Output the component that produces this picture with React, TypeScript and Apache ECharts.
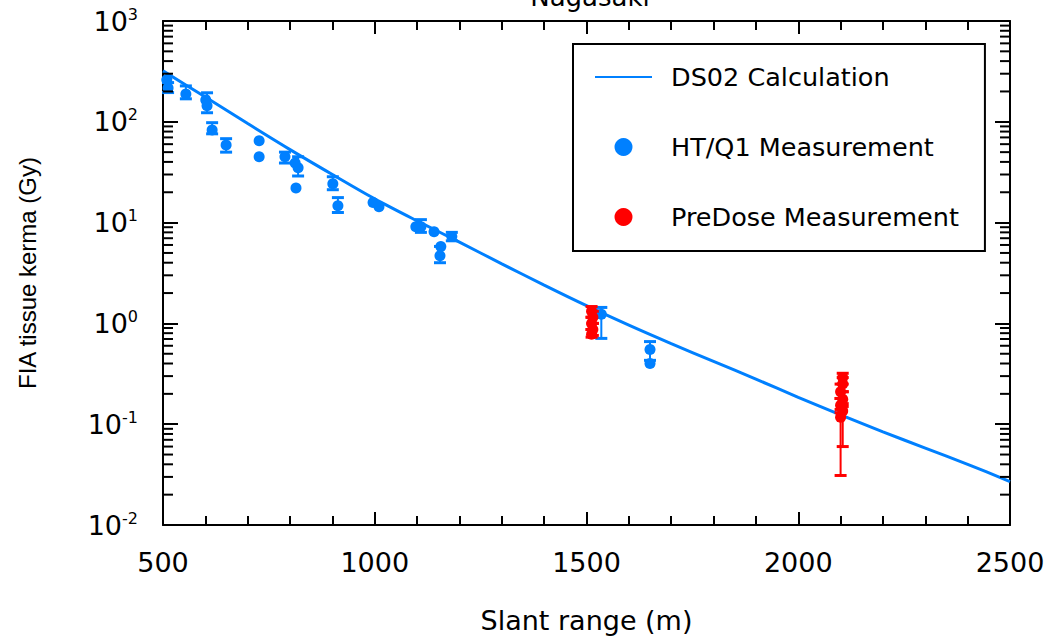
import React, { useEffect, useRef } from "react";
import * as echarts from "echarts";

// ---------- data ----------
const xMin = 500;
const xMax = 2500;
const yMin = 0.01;
const yMax = 1000;

// DS02 calculation curve (slant range m, FIA tissue kerma Gy)
const calcRange = [500, 600, 700, 800, 900, 1000, 1100, 1200, 1300, 1400, 1500, 1600, 1700, 1800, 1900, 2000, 2100, 2200, 2300, 2400, 2500];
const calcKerma = [320, 176, 96, 53, 30, 17.2, 10.4, 6.4, 3.9, 2.4, 1.5, 0.96, 0.63, 0.42, 0.28, 0.185, 0.124, 0.084, 0.058, 0.04, 0.027];

// HT/Q1 measurements (null = no error bar drawn)
const htRange = [509, 512, 554, 601, 604, 616, 649, 727, 727, 788, 812, 819, 814, 901, 913, 996, 1010, 1097, 1109, 1140, 1156, 1154, 1182, 1535, 1650, 1650];
const htKerma = [261, 217, 189, 165, 144, 83, 59, 65, 45, 45, 39, 35, 22, 24.3, 14.7, 15.8, 14.4, 9.1, 9.1, 8.1, 5.8, 4.7, 7.3, 1.23, 0.55, 0.4];
const htLow = [null, 195, 169, null, 123, 76, 50, null, null, 39, null, 29, null, 21.2, 12.6, null, null, null, 8.0, null, null, 4.0, 6.6, 0.71, 0.43, null];
const htHigh = [null, 245, 227, null, 194, 98, 68, null, null, 50, null, 45, null, 28.5, 17.7, null, null, null, 10.7, null, null, 5.8, 8.0, 1.44, 0.66, null];

// PreDose measurements
const pdRange = [1512, 1515, 1512, 1515, 1512, 2105, 2105, 2100, 2105, 2100, 2105, 2100];
const pdKerma = [1.32, 1.15, 1.0, 0.87, 0.78, 0.29, 0.25, 0.21, 0.177, 0.154, 0.135, 0.117];
const pdLow = [1.15, 1.0, 0.87, 0.76, 0.73, 0.25, 0.21, 0.18, 0.15, 0.13, 0.06, 0.031];
const pdHigh = [1.47, 1.32, 1.15, 1.0, 0.87, 0.32, 0.29, 0.25, 0.21, 0.18, 0.16, 0.14];

// log-axis minor tick positions (2..9 within each decade)
const minorMultipliers = [2, 3, 4, 5, 6, 7, 8, 9];
const decadeStarts = [0.01, 0.1, 1, 10, 100];

const BLUE = "#0080FF";
const RED = "#FF0000";
const TEXT_FONT = "DejaVu Sans";

export default function App() {
  const ref = useRef<HTMLDivElement>(null);

  useEffect(() => {
    if (!ref.current) return;
    const chart = echarts.init(ref.current, undefined, { renderer: "svg" });

    const minorY: number[][] = [];
    decadeStarts.forEach((d) => minorMultipliers.forEach((m) => minorY.push([xMin, d * m])));

    const errData = (r: number[], lo: (number | null)[], hi: (number | null)[]) =>
      r.map((x, i) => (lo[i] == null ? null : [x, lo[i], hi[i]])).filter((v) => v != null);

    const errorRender = (color: string) => (params: any, api: any) => {
      const x = api.value(0);
      const pLo = api.coord([x, api.value(1)]);
      const pHi = api.coord([x, api.value(2)]);
      const hw = 6;
      return {
        type: "group",
        children: [
          { type: "line", shape: { x1: pLo[0], y1: pLo[1], x2: pHi[0], y2: pHi[1] }, style: { stroke: color, lineWidth: 2 } },
          { type: "line", shape: { x1: pLo[0] - hw, y1: pLo[1], x2: pLo[0] + hw, y2: pLo[1] }, style: { stroke: color, lineWidth: 3 } },
          { type: "line", shape: { x1: pHi[0] - hw, y1: pHi[1], x2: pHi[0] + hw, y2: pHi[1] }, style: { stroke: color, lineWidth: 3 } },
        ],
      };
    };

    const xAxisCommon = {
      type: "value",
      min: xMin,
      max: xMax,
      interval: 500,
      axisLine: { show: true, onZero: false, lineStyle: { color: "#000", width: 2 } },
      axisTick: { show: true, inside: true, length: 13, lineStyle: { color: "#000", width: 2 } },
      minorTick: { show: true, splitNumber: 5, length: 9, lineStyle: { color: "#000", width: 2 } },
      splitLine: { show: false },
      minorSplitLine: { show: false },
    };
    const yAxisCommon = {
      type: "log",
      logBase: 10,
      min: yMin,
      max: yMax,
      splitNumber: 5,
      axisLine: { show: true, onZero: false, lineStyle: { color: "#000", width: 2 } },
      axisTick: { show: true, inside: true, length: 15, lineStyle: { color: "#000", width: 2 } },
      minorTick: { show: false },
      splitLine: { show: false },
    };

    chart.setOption({
      animation: false,
      backgroundColor: "#fff",
      grid: { left: 163, right: 40, top: 21, bottom: 113, containLabel: false },
      graphic: [
        {
          type: "text",
          x: 590,
          y: -3,
          style: {
            text: "Nagasaki",
            fontFamily: TEXT_FONT,
            fontSize: 26,
            fill: "#000",
            textAlign: "center",
            textVerticalAlign: "middle",
          },
        },
      ],
      legend: {
        data: [
          { name: "DS02 Calculation", icon: "path://M0,0 L100,0 L100,3.5 L0,3.5 Z" },
          { name: "HT/Q1 Measurement", icon: "circle" },
          { name: "PreDose Measurement", icon: "circle" },
        ],
        orient: "vertical",
        left: 573,
        top: 44,
        itemWidth: 57,
        itemHeight: 18,
        itemGap: 40,
        padding: [18, 26, 19, 22],
        borderColor: "#000",
        borderWidth: 2,
        borderRadius: 0,
        backgroundColor: "#fff",
        selectedMode: false,
        itemStyle: { opacity: 1 },
        textStyle: { fontFamily: TEXT_FONT, fontSize: 25.5, color: "#000", lineHeight: 30, padding: [0, 0, 0, 14] },
      },
      xAxis: [
        {
          ...xAxisCommon,
          position: "bottom",
          name: "Slant range (m)",
          nameLocation: "middle",
          nameGap: 82,
          nameTextStyle: { fontFamily: TEXT_FONT, fontSize: 27, color: "#000" },
          axisLabel: {
            show: true,
            margin: 24,
            fontFamily: TEXT_FONT,
            fontSize: 27,
            color: "#000",
            showMinLabel: true,
            showMaxLabel: true,
            formatter: (v: number) => String(v),
          },
        },
        { ...xAxisCommon, position: "top", axisLabel: { show: false } },
      ],
      yAxis: [
        {
          ...yAxisCommon,
          position: "left",
          name: "FIA tissue kerma (Gy)",
          nameLocation: "middle",
          nameGap: 124,
          nameRotate: 90,
          nameTextStyle: { fontFamily: "Liberation Sans", fontSize: 24, color: "#000" },
          axisLabel: {
            show: true,
            margin: 25,
            color: "#000",
            formatter: (v: number) => `{b|10}{s|${Math.round(Math.log10(v))}}`,
            rich: {
              b: { fontFamily: TEXT_FONT, fontSize: 27, lineHeight: 30, color: "#000" },
              s: { fontFamily: TEXT_FONT, fontSize: 16, lineHeight: 16, verticalAlign: "top", color: "#000" },
            },
          },
        },
        { ...yAxisCommon, position: "right", axisLabel: { show: false } },
      ],
      series: [
        {
          name: "DS02 Calculation",
          type: "line",
          xAxisIndex: 0,
          yAxisIndex: 0,
          data: calcRange.map((r, i) => [r, calcKerma[i]]),
          smooth: 0.3,
          symbol: "none",
          showSymbol: false,
          color: BLUE,
          lineStyle: { color: BLUE, width: 3 },
          z: 2,
        },
        {
          name: "HT/Q1 errors",
          type: "custom",
          xAxisIndex: 0,
          yAxisIndex: 0,
          data: errData(htRange, htLow, htHigh),
          encode: { x: 0, y: [1, 2] },
          renderItem: errorRender(BLUE),
          silent: true,
          z: 3,
        },
        {
          name: "HT/Q1 Measurement",
          type: "scatter",
          xAxisIndex: 0,
          yAxisIndex: 0,
          data: htRange.map((r, i) => [r, htKerma[i]]),
          symbol: "circle",
          symbolSize: 11,
          color: BLUE,
          itemStyle: { color: BLUE, opacity: 1 },
          z: 4,
        },
        {
          name: "PreDose errors",
          type: "custom",
          xAxisIndex: 0,
          yAxisIndex: 0,
          data: errData(pdRange, pdLow, pdHigh),
          encode: { x: 0, y: [1, 2] },
          renderItem: errorRender(RED),
          silent: true,
          z: 5,
        },
        {
          name: "PreDose Measurement",
          type: "scatter",
          xAxisIndex: 0,
          yAxisIndex: 0,
          data: pdRange.map((r, i) => [r, pdKerma[i]]),
          symbol: "circle",
          symbolSize: 11,
          color: RED,
          itemStyle: { color: RED, opacity: 1 },
          z: 6,
        },
        {
          name: "minor y ticks",
          type: "custom",
          xAxisIndex: 0,
          yAxisIndex: 0,
          data: minorY,
          encode: { x: 0, y: 1 },
          silent: true,
          clip: false,
          renderItem: (params: any, api: any) => {
            const v = api.value(1);
            const pL = api.coord([xMin, v]);
            const pR = api.coord([xMax, v]);
            const st = { stroke: "#000", lineWidth: 2 };
            return {
              type: "group",
              children: [
                { type: "line", shape: { x1: pL[0], y1: pL[1], x2: pL[0] + 10, y2: pL[1] }, style: st },
                { type: "line", shape: { x1: pR[0] - 10, y1: pR[1], x2: pR[0], y2: pR[1] }, style: st },
              ],
            };
          },
          z: 10,
        },
      ],
    });

    return () => chart.dispose();
  }, []);

  return (
    <div
      ref={ref}
      style={{ position: "fixed", left: 0, top: 0, width: 1050, height: 639, background: "#fff" }}
    />
  );
}
